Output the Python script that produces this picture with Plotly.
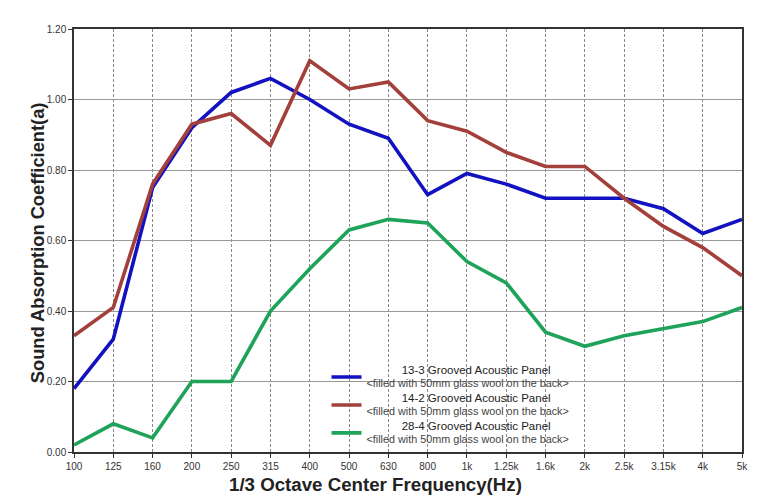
import plotly.graph_objects as go

freqs = ["100", "125", "160", "200", "250", "315", "400", "500", "630", "800",
         "1k", "1.25k", "1.6k", "2k", "2.5k", "3.15k", "4k", "5k"]
panel_13_3 = [0.18, 0.32, 0.75, 0.92, 1.02, 1.06, 1.00, 0.93, 0.89, 0.73,
              0.79, 0.76, 0.72, 0.72, 0.72, 0.69, 0.62, 0.66]
panel_14_2 = [0.33, 0.41, 0.76, 0.93, 0.96, 0.87, 1.11, 1.03, 1.05, 0.94,
              0.91, 0.85, 0.81, 0.81, 0.72, 0.64, 0.58, 0.50]
panel_28_4 = [0.02, 0.08, 0.04, 0.20, 0.20, 0.40, 0.52, 0.63, 0.66, 0.65,
              0.54, 0.48, 0.34, 0.30, 0.33, 0.35, 0.37, 0.41]
y_ticks = [0.0, 0.2, 0.4, 0.6, 0.8, 1.0, 1.2]

series = [
    ("13-3 Grooved Acoustic Panel", panel_13_3, "#1212c0"),
    ("14-2 Grooved Acoustic Panel", panel_14_2, "#a3403b"),
    ("28-4 Grooved Acoustic Panel", panel_28_4, "#1fa35a"),
]
sub = "&lt;filled with 50mm glass wool on the back&gt;"
pad = "&nbsp;" * 11

fig = go.Figure()
for name, vals, col in series:
    fig.add_trace(go.Scatter(
        x=freqs, y=vals, mode="lines", line=dict(color=col, width=3.6),
        name=("<span style='font-size:11.5px;color:#222'>" + pad + name + "</span><br>"
              "<span style='font-size:10.8px;color:#444'>" + sub + "</span>"),
    ))

fig.update_layout(
    width=760, height=498,
    margin=dict(l=74, r=15, t=29, b=46),
    paper_bgcolor="white", plot_bgcolor="white",
    font=dict(family="Liberation Sans, Arial, sans-serif", color="#333"),
    showlegend=True,
    legend=dict(x=0.378, y=0.0, xanchor="left", yanchor="bottom",
                bgcolor="rgba(0,0,0,0)", font=dict(size=9.6, color="#222"),
                tracegroupgap=0, itemwidth=30),
    xaxis=dict(type="category", range=[0, 17], showgrid=True, gridcolor="#888",
               griddash="3px,2px", gridwidth=1, showline=True, linecolor="#333",
               linewidth=1.5, mirror=True, ticks="outside", ticklen=4,
               tickcolor="#333", tickfont=dict(size=10, color="#333")),
    yaxis=dict(range=[0, 1.2], tickvals=y_ticks, tickformat=".2f", showgrid=True,
               gridcolor="#999", gridwidth=1.2, showline=True, linecolor="#333",
               linewidth=1.5, mirror=True, ticks="outside", ticklen=4,
               tickcolor="#333", tickfont=dict(size=10, color="#333"), zeroline=False),
    annotations=[
        dict(text="<b>1/3 Octave Center Frequency(Hz)</b>", xref="paper", yref="paper",
             x=(377 - 74) / 671, y=-(484 - 452) / 423, xanchor="center", yanchor="middle",
             showarrow=False, font=dict(size=18.7, color="#222")),
        dict(text="<b>Sound Absorption Coefficient(a)</b>", xref="paper", yref="paper",
             x=-(74 - 37) / 671, y=(452 - 243) / 423, xanchor="center", yanchor="middle",
             textangle=-90, showarrow=False, font=dict(size=18.3, color="#222")),
    ],
)

fig.write_html("out.html")
